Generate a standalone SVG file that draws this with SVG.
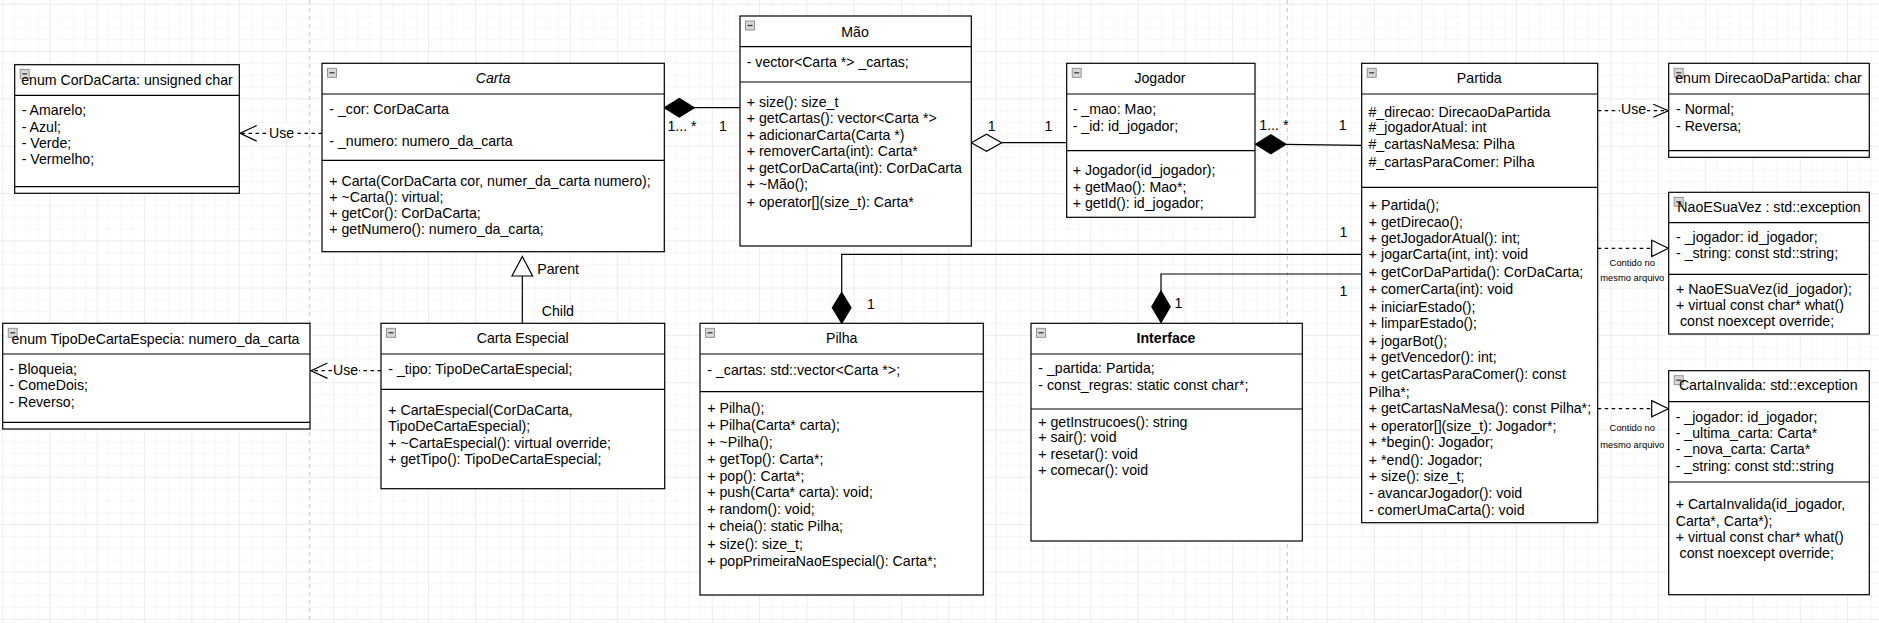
<svg xmlns="http://www.w3.org/2000/svg" xmlns:xlink="http://www.w3.org/1999/xlink" width="1879" height="623" viewBox="0 0 1879 623">
<style>
text{font-family:"Liberation Sans",Arial,Helvetica,sans-serif;font-size:14.16px;fill:#000}
.c{text-anchor:middle}
.i{font-style:italic}
.b{font-weight:bold}
.sm{font-size:9.4px}
.box{fill:#fff;stroke:#000;stroke-width:1.2}
.sep{stroke:#000;stroke-width:1.2;fill:none}
.ln{stroke:#000;stroke-width:1.2;fill:none}
.dash{stroke:#000;stroke-width:1.2;fill:none;stroke-dasharray:3.5,3.5}
.open{stroke:#000;stroke-width:1.2;fill:none}
.tri{stroke:#000;stroke-width:1.2;fill:#fff}
.comp{fill:#000;stroke:#000;stroke-width:1.2}
.agg{fill:#fff;stroke:#000;stroke-width:1.2}
.page{stroke:#c6c6c6;stroke-width:1;stroke-dasharray:4,4}
.lbg{fill:#fff}
</style>
<defs>
<pattern id="gMinor" width="11.826" height="11.826" patternUnits="userSpaceOnUse" x="2.2" y="3.8"><path d="M11.826 0H0V11.826" fill="none" stroke="#f0f0f0" stroke-width="1"/></pattern>
<pattern id="gMajor" width="47.304" height="47.304" patternUnits="userSpaceOnUse" x="2.2" y="3.8"><path d="M47.304 0H0V47.304" fill="none" stroke="#e3e3e3" stroke-width="1"/></pattern>
<g id="col"><rect x="0" y="0" width="9" height="9" fill="#d8d8d8" stroke="#8a8a8a" stroke-width="0.9"/><line x1="2" y1="4.5" x2="7" y2="4.5" stroke="#3c3c3c" stroke-width="1.3"/></g>
</defs>
<rect x="0" y="0" width="1879" height="623" fill="#fff"/>
<rect x="0" y="0" width="1879" height="623" fill="url(#gMinor)"/>
<rect x="0" y="0" width="1879" height="623" fill="url(#gMajor)"/>
<line class="page" x1="309.3" y1="0" x2="309.3" y2="623"/>
<line class="page" x1="1287.3" y1="0" x2="1287.3" y2="623"/>

<g id="connectors">
<g id="e-carta-cor">
<line class="dash" x1="322" y1="133.3" x2="241" y2="133.3"/>
<polyline class="open" points="256.7,125.5 240,133.3 256.7,141.1"/>
<rect class="lbg" x="268" y="123" width="27" height="18"/>
<text class="c" x="281.5" y="137.5">Use</text>
</g>
<g id="e-carta-mao">
<line class="ln" x1="694.3" y1="107.7" x2="740" y2="107.7"/>
<polygon class="comp" points="664.3,107.7 679.3,98.4 694.3,107.7 679.3,117"/>
<text x="667.5" y="131">1... *</text>
<text x="719" y="131">1</text>
</g>
<g id="e-mao-jogador">
<line class="ln" x1="1001.7" y1="142.7" x2="1066.7" y2="142.7"/>
<polygon class="agg" points="971.3,142.7 986.5,134.2 1001.7,142.7 986.5,151.2"/>
<text x="987.8" y="130.7">1</text>
<text x="1044.4" y="130.7">1</text>
</g>
<g id="e-jogador-partida">
<line class="ln" x1="1286" y1="144.3" x2="1361.7" y2="145.3"/>
<polygon class="comp" points="1255.6,144.3 1270.8,134.8 1286,144.3 1270.8,153.8"/>
<text x="1259.3" y="130">1... *</text>
<text x="1338.8" y="130">1</text>
</g>
<g id="e-partida-direcao">
<line class="dash" x1="1597.7" y1="110.7" x2="1667.5" y2="110.7"/>
<polyline class="open" points="1653.3,104.3 1668.4,110.7 1653.3,117.3"/>
<rect class="lbg" x="1620" y="100" width="27" height="18"/>
<text class="c" x="1633.5" y="114">Use</text>
</g>
<g id="e-partida-naoesuavez">
<line class="dash" x1="1597.7" y1="248.3" x2="1651.7" y2="248.3"/>
<polygon class="tri" points="1651.7,240.2 1668.4,248.3 1651.7,256.5"/>
<text class="c sm" x="1632.3" y="265.7">Contido no</text>
<text class="c sm" x="1632.3" y="281.2">mesmo arquivo</text>
</g>
<g id="e-partida-cartainvalida">
<line class="dash" x1="1597.7" y1="408.7" x2="1651.7" y2="408.7"/>
<polygon class="tri" points="1651.7,400.6 1668.4,408.7 1651.7,416.9"/>
<text class="c sm" x="1632.3" y="431">Contido no</text>
<text class="c sm" x="1632.3" y="447.7">mesmo arquivo</text>
</g>
<g id="e-pilha-partida">
<polyline class="ln" points="841.7,292.3 841.7,254.3 1361.7,254.3"/>
<polygon class="comp" points="841.7,323.3 832.4,307.8 841.7,292.3 851,307.8"/>
<text x="867" y="309.3">1</text>
<text x="1339.5" y="236.7">1</text>
</g>
<g id="e-interface-partida">
<polyline class="ln" points="1161,291 1161,274 1361.7,274"/>
<polygon class="comp" points="1161,322.5 1151.8,306.8 1161,291 1170.2,306.8"/>
<text x="1174.5" y="308.3">1</text>
<text x="1339.5" y="295.7">1</text>
</g>
<g id="e-especial-carta">
<line class="ln" x1="522.3" y1="276" x2="522.3" y2="323.3"/>
<polygon class="tri" points="522.3,256.5 532.6,276 512,276"/>
<text x="537.3" y="274">Parent</text>
<text x="541.7" y="316">Child</text>
</g>
<g id="e-especial-tipo">
<line class="dash" x1="381" y1="370.7" x2="312" y2="370.7"/>
<polyline class="open" points="327.5,363 311,370.7 327.5,378.4"/>
<rect class="lbg" x="332" y="360" width="27" height="18"/>
<text class="c" x="345.5" y="374.5">Use</text>
</g>
</g>

<g id="node-cordacarta">
<rect class="box" x="14.7" y="64.7" width="224.6" height="128.6"/>
<line class="sep" x1="14.7" y1="95.3" x2="239.3" y2="95.3"/>
<line class="sep" x1="14.7" y1="186.7" x2="239.3" y2="186.7"/>
<use xlink:href="#col" x="20.2" y="69.4"/>
<text class="c" x="127" y="85">enum CorDaCarta: unsigned char</text>
<text x="21.7" y="115">- Amarelo;</text>
<text x="21.7" y="131.7">- Azul;</text>
<text x="21.7" y="147.7">- Verde;</text>
<text x="21.7" y="164.3">- Vermelho;</text>
</g>

<g id="node-carta">
<rect class="box" x="322" y="63.3" width="342.3" height="188.4"/>
<line class="sep" x1="322" y1="94" x2="664.3" y2="94"/>
<line class="sep" x1="322" y1="160.3" x2="664.3" y2="160.3"/>
<use xlink:href="#col" x="327.5" y="68.3"/>
<text class="c i" x="493" y="83.3">Carta</text>
<text x="329.3" y="114.3">- _cor: CorDaCarta</text>
<text x="329.3" y="145.7">- _numero: numero_da_carta</text>
<text x="329.3" y="185.7">+ Carta(CorDaCarta cor, numer_da_carta numero);</text>
<text x="329.3" y="201.7">+ ~Carta(): virtual;</text>
<text x="329.3" y="217.7">+ getCor(): CorDaCarta;</text>
<text x="329.3" y="233.7">+ getNumero(): numero_da_carta;</text>
</g>

<g id="node-mao">
<rect class="box" x="740" y="16" width="231.3" height="230"/>
<line class="sep" x1="740" y1="46.7" x2="971.3" y2="46.7"/>
<line class="sep" x1="740" y1="82" x2="971.3" y2="82"/>
<use xlink:href="#col" x="745.5" y="21"/>
<text class="c" x="855" y="36.7">Mão</text>
<text x="746.7" y="67.3">- vector&lt;Carta *&gt; _cartas;</text>
<text x="746.7" y="106.7">+ size(): size_t</text>
<text x="746.7" y="122.7">+ getCartas(): vector&lt;Carta *&gt;</text>
<text x="746.7" y="140">+ adicionarCarta(Carta *)</text>
<text x="746.7" y="156">+ removerCarta(int): Carta*</text>
<text x="746.7" y="173.3">+ getCorDaCarta(int): CorDaCarta</text>
<text x="746.7" y="189.3">+ ~Mão();</text>
<text x="746.7" y="206.7">+ operator[](size_t): Carta*</text>
</g>

<g id="node-jogador">
<rect class="box" x="1066.7" y="63.3" width="188.3" height="154"/>
<line class="sep" x1="1066.7" y1="94" x2="1255" y2="94"/>
<line class="sep" x1="1066.7" y1="150.7" x2="1255" y2="150.7"/>
<use xlink:href="#col" x="1072.2" y="68.3"/>
<text class="c" x="1160" y="83.3">Jogador</text>
<text x="1072.7" y="114.3">- _mao: Mao;</text>
<text x="1072.7" y="131">- _id: id_jogador;</text>
<text x="1072.7" y="175">+ Jogador(id_jogador);</text>
<text x="1072.7" y="191.7">+ getMao(): Mao*;</text>
<text x="1072.7" y="207.7">+ getId(): id_jogador;</text>
</g>

<g id="node-partida">
<rect class="box" x="1361.7" y="63.3" width="236" height="459.4"/>
<line class="sep" x1="1361.7" y1="94" x2="1597.7" y2="94"/>
<line class="sep" x1="1361.7" y1="187.3" x2="1597.7" y2="187.3"/>
<use xlink:href="#col" x="1367.2" y="68.3"/>
<text class="c" x="1479.3" y="83.3">Partida</text>
<text x="1368.5" y="116.7">#_direcao: DirecaoDaPartida</text>
<text x="1368.5" y="132.3">#_jogadorAtual: int</text>
<text x="1368.5" y="149.3">#_cartasNaMesa: Pilha</text>
<text x="1368.5" y="167.3">#_cartasParaComer: Pilha</text>
<text x="1368.8" y="210">+ Partida();</text>
<text x="1368.8" y="226.7">+ getDirecao();</text>
<text x="1368.8" y="242.7">+ getJogadorAtual(): int;</text>
<text x="1368.8" y="259.3">+ jogarCarta(int, int): void</text>
<text x="1368.8" y="276.7">+ getCorDaPartida(): CorDaCarta;</text>
<text x="1368.8" y="294">+ comerCarta(int): void</text>
<text x="1368.8" y="311.7">+ iniciarEstado();</text>
<text x="1368.8" y="328.3">+ limparEstado();</text>
<text x="1368.8" y="345.7">+ jogarBot();</text>
<text x="1368.8" y="362.3">+ getVencedor(): int;</text>
<text x="1368.8" y="379">+ getCartasParaComer(): const</text>
<text x="1368.8" y="396.7">Pilha*;</text>
<text x="1368.8" y="413.3">+ getCartasNaMesa(): const Pilha*;</text>
<text x="1368.8" y="430.7">+ operator[](size_t): Jogador*;</text>
<text x="1368.8" y="447.3">+ *begin(): Jogador;</text>
<text x="1368.8" y="464.7">+ *end(): Jogador;</text>
<text x="1368.8" y="481">+ size(): size_t;</text>
<text x="1368.8" y="498.3">- avancarJogador(): void</text>
<text x="1368.8" y="515.3">- comerUmaCarta(): void</text>
</g>

<g id="node-direcao">
<rect class="box" x="1668.7" y="63.3" width="200.6" height="94"/>
<line class="sep" x1="1668.7" y1="94" x2="1869.3" y2="94"/>
<line class="sep" x1="1668.7" y1="150.7" x2="1869.3" y2="150.7"/>
<use xlink:href="#col" x="1674.2" y="68.3"/>
<text class="c" x="1768.5" y="83.3">enum DirecaoDaPartida: char</text>
<text x="1676" y="114.3">- Normal;</text>
<text x="1676" y="131">- Reversa;</text>
</g>

<g id="node-naoesuavez">
<rect class="box" x="1668.7" y="192.3" width="200.6" height="141.7"/>
<line class="sep" x1="1668.7" y1="222.7" x2="1869.3" y2="222.7"/>
<line class="sep" x1="1668.7" y1="274.3" x2="1867.7" y2="274.3"/>
<use xlink:href="#col" x="1674.2" y="197.3"/>
<text class="c" x="1769" y="212.3">NaoESuaVez : std::exception</text>
<text x="1676" y="241.7">- _jogador: id_jogador;</text>
<text x="1676" y="258.3">- _string: const std::string;</text>
<text x="1676" y="294.3">+ NaoESuaVez(id_jogador);</text>
<text x="1676" y="310">+ virtual const char* what()</text>
<text x="1676" y="326" xml:space="preserve"> const noexcept override;</text>
</g>

<g id="node-cartainvalida">
<rect class="box" x="1668.7" y="370.7" width="200.6" height="224"/>
<line class="sep" x1="1668.7" y1="401.7" x2="1869.3" y2="401.7"/>
<line class="sep" x1="1668.7" y1="482" x2="1869.3" y2="482"/>
<use xlink:href="#col" x="1674.2" y="375.7"/>
<text class="c" x="1768.2" y="390">CartaInvalida: std::exception</text>
<text x="1675.7" y="421.7">- _jogador: id_jogador;</text>
<text x="1675.7" y="438.3">- _ultima_carta: Carta*</text>
<text x="1675.7" y="454.3">- _nova_carta: Carta*</text>
<text x="1675.7" y="471">- _string: const std::string</text>
<text x="1675.7" y="509">+ CartaInvalida(id_jogador,</text>
<text x="1675.7" y="525.7">Carta*, Carta*);</text>
<text x="1675.7" y="541.7">+ virtual const char* what()</text>
<text x="1675.7" y="557.7" xml:space="preserve"> const noexcept override;</text>
</g>

<g id="node-tipocarta">
<rect class="box" x="2.7" y="323.3" width="307.3" height="105.7"/>
<line class="sep" x1="2.7" y1="354" x2="310" y2="354"/>
<line class="sep" x1="2.7" y1="422.3" x2="310" y2="422.3"/>
<use xlink:href="#col" x="8.2" y="328.3"/>
<text class="c" x="155.5" y="344">enum TipoDeCartaEspecia: numero_da_carta</text>
<text x="9.3" y="374">- Bloqueia;</text>
<text x="9.3" y="390">- ComeDois;</text>
<text x="9.3" y="406.7">- Reverso;</text>
</g>

<g id="node-cartaespecial">
<rect class="box" x="381" y="323.3" width="283.7" height="165.4"/>
<line class="sep" x1="381" y1="354" x2="664.7" y2="354"/>
<line class="sep" x1="381" y1="389.3" x2="664.7" y2="389.3"/>
<use xlink:href="#col" x="386.5" y="328.3"/>
<text class="c" x="522.7" y="343.3">Carta Especial</text>
<text x="388.3" y="374">- _tipo: TipoDeCartaEspecial;</text>
<text x="388.3" y="415">+ CartaEspecial(CorDaCarta,</text>
<text x="388.3" y="431">TipoDeCartaEspecial);</text>
<text x="388.3" y="447.7">+ ~CartaEspecial(): virtual override;</text>
<text x="388.3" y="464.3">+ getTipo(): TipoDeCartaEspecial;</text>
</g>

<g id="node-pilha">
<rect class="box" x="700" y="323.3" width="283.3" height="271.7"/>
<line class="sep" x1="700" y1="354" x2="983.3" y2="354"/>
<line class="sep" x1="700" y1="391.7" x2="983.3" y2="391.7"/>
<use xlink:href="#col" x="705.5" y="328.3"/>
<text class="c" x="841.7" y="343.3">Pilha</text>
<text x="707.3" y="375">- _cartas: std::vector&lt;Carta *&gt;;</text>
<text x="707.3" y="413.3">+ Pilha();</text>
<text x="707.3" y="430">+ Pilha(Carta* carta);</text>
<text x="707.3" y="446.7">+ ~Pilha();</text>
<text x="707.3" y="464">+ getTop(): Carta*;</text>
<text x="707.3" y="480.7">+ pop(): Carta*;</text>
<text x="707.3" y="497.3">+ push(Carta* carta): void;</text>
<text x="707.3" y="514">+ random(): void;</text>
<text x="707.3" y="530.7">+ cheia(): static Pilha;</text>
<text x="707.3" y="549">+ size(): size_t;</text>
<text x="707.3" y="566">+ popPrimeiraNaoEspecial(): Carta*;</text>
</g>

<g id="node-interface">
<rect class="box" x="1031" y="323.3" width="271.3" height="217.7"/>
<line class="sep" x1="1031" y1="354" x2="1302.3" y2="354"/>
<line class="sep" x1="1031" y1="409" x2="1302.3" y2="409"/>
<use xlink:href="#col" x="1036.5" y="328.3"/>
<text class="c b" x="1166" y="343.3">Interface</text>
<text x="1038.3" y="373.3">- _partida: Partida;</text>
<text x="1038.3" y="390">- const_regras: static const char*;</text>
<text x="1038.3" y="426.7">+ getInstrucoes(): string</text>
<text x="1038.3" y="442.3">+ sair(): void</text>
<text x="1038.3" y="459">+ resetar(): void</text>
<text x="1038.3" y="475">+ comecar(): void</text>
</g>
</svg>
